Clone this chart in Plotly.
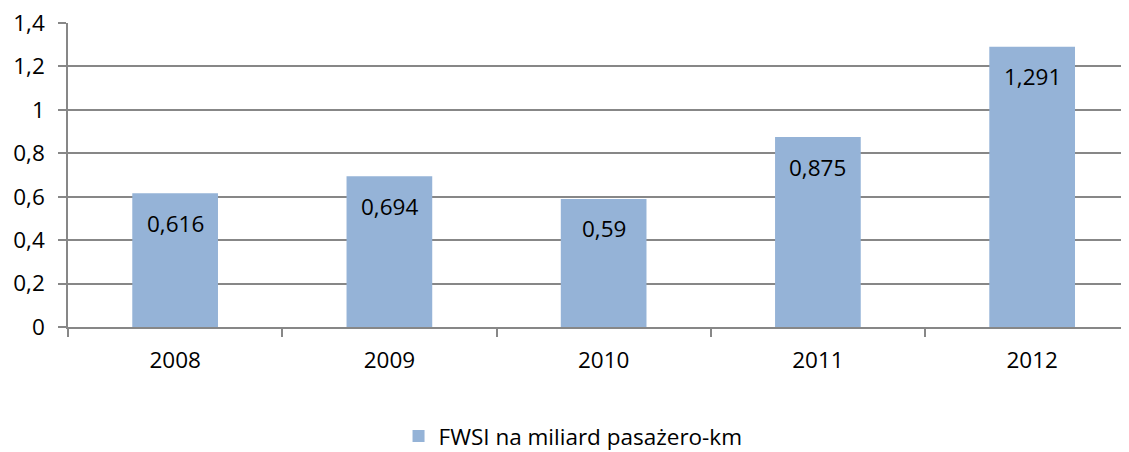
import plotly.graph_objects as go

years = ["2008", "2009", "2010", "2011", "2012"]
values = [0.616, 0.694, 0.59, 0.875, 1.291]
series_name = "FWSI na miliard pasażero-km"
y_ticks = [0, 0.2, 0.4, 0.6, 0.8, 1.0, 1.2, 1.4]

FONT = "Open Sans"
FS = 22.5
GRID = "#878787"

fig = go.Figure()
fig.add_trace(go.Bar(
    x=years, y=values, name=series_name,
    marker=dict(color="#95B3D7", line=dict(width=0)),
    showlegend=True,
))

for i, v in enumerate(values):
    fig.add_annotation(
        x=i, y=v, xref="x", yref="y", text=str(v).replace(".", ","),
        showarrow=False, yanchor="middle", yshift=-30,
        font=dict(family=FONT, size=FS, color="black"),
    )

# page body has an 8px margin, so the figure is made 8px smaller
fig.update_layout(
    width=1121, height=444,
    margin=dict(l=60, r=0, t=15, b=125, autoexpand=False),
    paper_bgcolor="white", plot_bgcolor="white",
    separators=", ",
    bargap=0.6,
    font=dict(family=FONT, size=FS, color="black"),
    legend=dict(orientation="h", x=0.476, xanchor="center", y=-0.36, yanchor="middle",
                font=dict(family=FONT, size=FS, color="black"),
                itemwidth=30),
)
fig.update_xaxes(
    type="category", range=[-0.5, 4.452],
    showline=True, linecolor=GRID, linewidth=1.5,
    ticks="outside", tickson="boundaries", ticklen=8, tickcolor=GRID, tickwidth=1.5,
    showgrid=False, ticklabelstandoff=12, ticklabeloverflow="allow",
)
fig.update_yaxes(
    range=[0, 1.4], tickvals=y_ticks,
    showline=True, linecolor=GRID, linewidth=1.5,
    ticks="outside", ticklen=8, tickcolor=GRID, tickwidth=1.5,
    showgrid=True, gridcolor=GRID, gridwidth=1.5,
    zeroline=False, ticklabelstandoff=9, ticklabeloverflow="allow",
)

fig.write_html("out.html")
